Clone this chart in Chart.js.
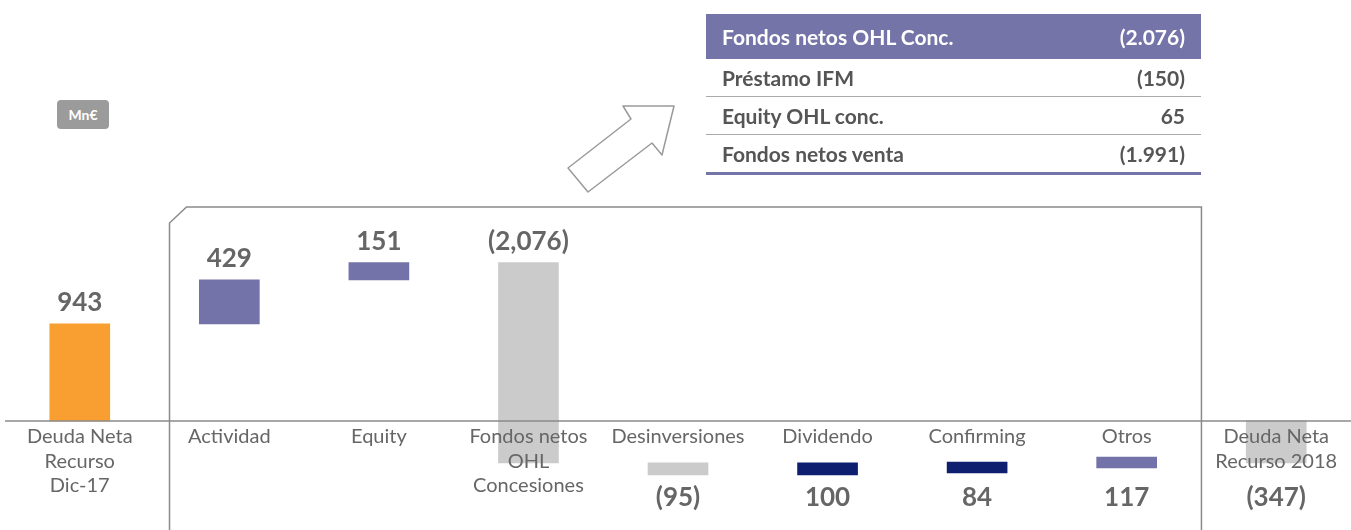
<!DOCTYPE html>
<html>
<head>
<meta charset="utf-8">
<script src="https://cdn.jsdelivr.net/npm/chart.js@4/dist/chart.umd.min.js"></script>
<style>
  body { margin: 0; background: #fff; font-family: Lato, sans-serif; }
  #wrap { position: relative; width: 1351px; height: 530px; overflow: hidden; }
  #myChart { position: absolute; left: 0; top: 0; }
  .unit {
    position: absolute; left: 57px; top: 100px; width: 52px; height: 29px;
    background: #9b9b9b; border-radius: 4px; color: #fff; font-weight: bold;
    font-size: 14px; line-height: 29px; text-align: center;
  }
  #arrow { position: absolute; left: 0; top: 0; }
  table.box {
    position: absolute; left: 706px; top: 14px; width: 495px;
    border-collapse: collapse; font-size: 21px; color: #555;
  }
  table.box td { padding: 0 16px; height: 37px; border-bottom: 1px solid #aaa; font-weight: bold; }
  table.box td.num { text-align: right; }
  table.box tr.head td { background: #7474a9; color: #fff; height: 45px; border-bottom: none; }
  table.box tr:last-child td { border-bottom: 3px solid #7474a9; }
</style>
</head>
<body>
<div id="wrap">
  <canvas id="myChart" width="1351" height="530"></canvas>
  <div class="unit">Mn€</div>
  <svg id="arrow" width="700" height="200">
    <polygon points="568,168 631,119 623,106 674,106 662,155 652,143 588,192"
      fill="#fff" stroke="#9a9a9a" stroke-width="1.5" stroke-linejoin="round"/>
  </svg>
  <table class="box" id="box"></table>
</div>
<script>
// categories (one entry per bar, split in lines)
const categories = [
  ['Deuda Neta', 'Recurso', 'Dic-17'],
  ['Actividad'],
  ['Equity'],
  ['Fondos netos', 'OHL', 'Concesiones'],
  ['Desinversiones'],
  ['Dividendo'],
  ['Confirming'],
  ['Otros'],
  ['Deuda Neta', 'Recurso 2018']
];
const valueLabels = ['943', '429', '151', '(2,076)', '(95)', '100', '84', '117', '(347)'];
// floating bars, Mn€
const barLow  = [0,   943, 1372, -408, -525, -525, -505, -457, -408];
const barHigh = [943, 1372, 1540, 1540, -408, -408, -399, -350, 0];
const barColors = ['#f99f32', '#7373a9', '#7373a9', '#cbcbcb', '#cbcbcb', '#0d1f6e', '#0d1f6e', '#7373a9', '#cbcbcb'];

// side table
const tableHead = ['Fondos netos OHL Conc.', '(2.076)'];
const tableRows = ['Préstamo IFM', 'Equity OHL conc.', 'Fondos netos venta'];
const tableValues = ['(150)', '65', '(1.991)'];

const box = document.getElementById('box');
let html = '<tr class="head"><td>' + tableHead[0] + '</td><td class="num">' + tableHead[1] + '</td></tr>';
tableRows.forEach((r, i) => {
  html += '<tr><td>' + r + '</td><td class="num">' + tableValues[i] + '</td></tr>';
});
box.innerHTML = html;

// frame, baseline and all text on top of the bars
const overlay = {
  id: 'overlay',
  afterDatasetsDraw(chart) {
    const ctx = chart.ctx;
    const x = chart.scales.x;
    const y = chart.scales.y;
    const base = y.getPixelForValue(0);
    const step = x.getPixelForValue(1) - x.getPixelForValue(0);
    ctx.save();
    ctx.strokeStyle = '#8a8a8a';
    ctx.lineWidth = 1.5;
    // box around the movements
    const fl = x.getPixelForValue(0) + step * 0.6;
    const fr = x.getPixelForValue(7) + step * 0.5;
    const ft = base - 214;
    ctx.beginPath();
    ctx.moveTo(fl, chart.height);
    ctx.lineTo(fl, ft + 16);
    ctx.lineTo(fl + 17, ft);
    ctx.lineTo(fr, ft);
    ctx.lineTo(fr, chart.height);
    ctx.stroke();
    // baseline
    ctx.beginPath();
    ctx.moveTo(5, base);
    ctx.lineTo(chart.width, base);
    ctx.stroke();

    ctx.fillStyle = '#666';
    ctx.textAlign = 'center';
    ctx.textBaseline = 'middle';
    ctx.font = '20px Lato';
    categories.forEach((lines, i) => {
      const cx = x.getPixelForValue(i);
      lines.forEach((t, j) => ctx.fillText(t, cx, base + 16 + j * 24.3));
    });
    ctx.font = 'bold 26px Lato';
    valueLabels.forEach((t, i) => {
      const hi = barHigh[i];
      const ty = hi > 0 ? y.getPixelForValue(hi) - 21 : base + 77;
      ctx.fillText(t, x.getPixelForValue(i), ty);
    });
    ctx.restore();
  }
};

const ctx = document.getElementById('myChart').getContext('2d');
const myChart = new Chart(ctx, {
  type: 'bar',
  data: {
    labels: categories.map(c => c.join(' ')),
    datasets: [{
      data: barLow.map((lo, i) => [lo, barHigh[i]]),
      backgroundColor: barColors,
      borderWidth: 0,
      borderSkipped: false,
      barThickness: 60,
      clip: false
    }]
  },
  options: {
    responsive: false,
    animation: false,
    layout: { padding: { left: 5, right: 0, top: 0, bottom: 0 } },
    plugins: {
      legend: { display: false },
      tooltip: { enabled: false }
    },
    scales: {
      x: { display: false, offset: true, grid: { display: false } },
      y: { display: false, min: -1060, max: 4092 }
    }
  },
  plugins: [overlay]
});
</script>
</body>
</html>
